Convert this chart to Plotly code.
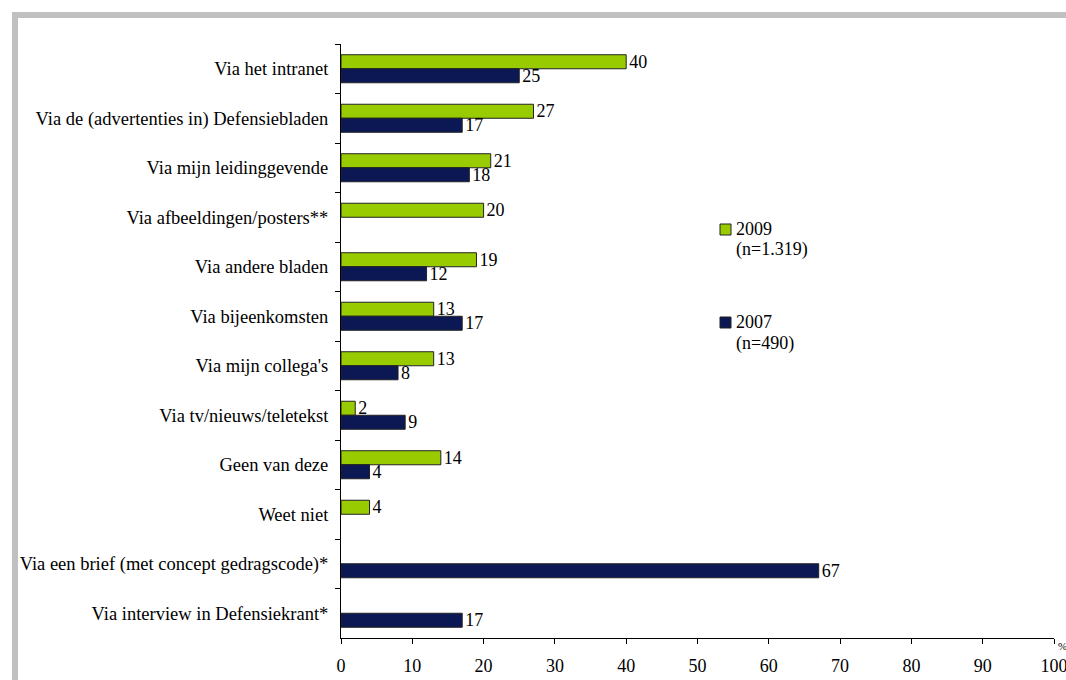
import plotly.graph_objects as go

categories = [
    "Via het intranet",
    "Via de (advertenties in) Defensiebladen",
    "Via mijn leidinggevende",
    "Via afbeeldingen/posters**",
    "Via andere bladen",
    "Via bijeenkomsten",
    "Via mijn collega's",
    "Via tv/nieuws/teletekst",
    "Geen van deze",
    "Weet niet",
    "Via een brief (met concept gedragscode)*",
    "Via interview in Defensiekrant*",
]
values_2009 = [40, 27, 21, 20, 19, 13, 13, 2, 14, 4, None, None]
values_2007 = [25, 17, 18, None, 12, 17, 8, 9, 4, None, 67, 17]
x_ticks = [0, 10, 20, 30, 40, 50, 60, 70, 80, 90, 100]
legend_2009 = ["2009", "(n=1.319)"]
legend_2007 = ["2007", "(n=490)"]

GREEN = "#99CC00"
NAVY = "#0B1854"
FONT = "'Times New Roman', 'Liberation Serif', 'DejaVu Serif', serif"

W, H = 1066, 680
L, R, T, B = 341, 12, 44, 42
PW, PH = W - L - R, H - T - B


def px(x):
    return (x - L) / PW


def py(y):
    return (H - B - y) / PH


def labels(vals):
    return [str(v) if v is not None else "" for v in vals]


fig = go.Figure()
fig.add_trace(go.Bar(
    y=categories, x=values_2009, orientation="h", name="2009",
    marker=dict(color=GREEN, line=dict(color="#222222", width=1)),
    text=labels(values_2009), textposition="outside", constraintext="none",
    textfont=dict(family=FONT, size=18, color="black"), cliponaxis=False,
))
fig.add_trace(go.Bar(
    y=categories, x=values_2007, orientation="h", name="2007",
    marker=dict(color=NAVY, line=dict(color="#222222", width=1)),
    text=labels(values_2007), textposition="outside", constraintext="none",
    textfont=dict(family=FONT, size=18, color="black"), cliponaxis=False,
))

fig.update_layout(
    width=W, height=H,
    margin=dict(l=L, r=R, t=T, b=B, autoexpand=False),
    paper_bgcolor="white", plot_bgcolor="white",
    barmode="group", bargap=0.434, bargroupgap=0,
    showlegend=False,
    font=dict(family=FONT, size=18, color="black"),
    xaxis=dict(
        range=[0, 100], tickvals=x_ticks, ticks="outside", ticklen=5,
        tickcolor="black", showline=True, linecolor="black", linewidth=1,
        showgrid=False, zeroline=False, tickfont=dict(family=FONT, size=18),
        ticklabeloverflow="allow", automargin=False, ticklabelstandoff=6,
    ),
    yaxis=dict(
        autorange="reversed", ticks="outside", tickson="boundaries", ticklen=5,
        tickcolor="black", showline=True, linecolor="black", linewidth=1,
        showgrid=False, tickfont=dict(family=FONT, size=18.5), ticklabelstandoff=8,
        automargin=False,
    ),
)

shapes = [
    dict(type="rect", xref="paper", yref="paper", x0=px(12), x1=px(W + 5),
         y0=py(12), y1=py(18), fillcolor="#C0C0C0", line=dict(width=0), layer="below"),
    dict(type="rect", xref="paper", yref="paper", x0=px(12), x1=px(18),
         y0=py(12), y1=py(H + 5), fillcolor="#C0C0C0", line=dict(width=0), layer="below"),
    dict(type="rect", xref="paper", yref="paper", x0=px(720), x1=px(731),
         y0=py(224), y1=py(235), fillcolor=GREEN, line=dict(color="#222222", width=1)),
    dict(type="rect", xref="paper", yref="paper", x0=px(720), x1=px(731),
         y0=py(317), y1=py(328), fillcolor=NAVY, line=dict(color="#222222", width=1)),
]
fig.update_layout(shapes=shapes)

annotations = []
for text, ycen in [(legend_2009[0], 229), (legend_2009[1], 250),
                   (legend_2007[0], 322), (legend_2007[1], 343)]:
    annotations.append(dict(
        x=px(734), y=py(ycen), xref="paper", yref="paper", text=text,
        showarrow=False, xanchor="left", yanchor="middle",
        font=dict(family=FONT, size=18, color="black"),
    ))
annotations.append(dict(
    x=px(1056), y=py(646), xref="paper", yref="paper", text="%",
    showarrow=False, xanchor="left", yanchor="middle",
    font=dict(family=FONT, size=11, color="black"),
))
fig.update_layout(annotations=annotations)

fig.write_html(
    "out.html",
    config={"displayModeBar": False},
    post_script="document.body.style.margin='0px';document.body.style.padding='0px';",
)
